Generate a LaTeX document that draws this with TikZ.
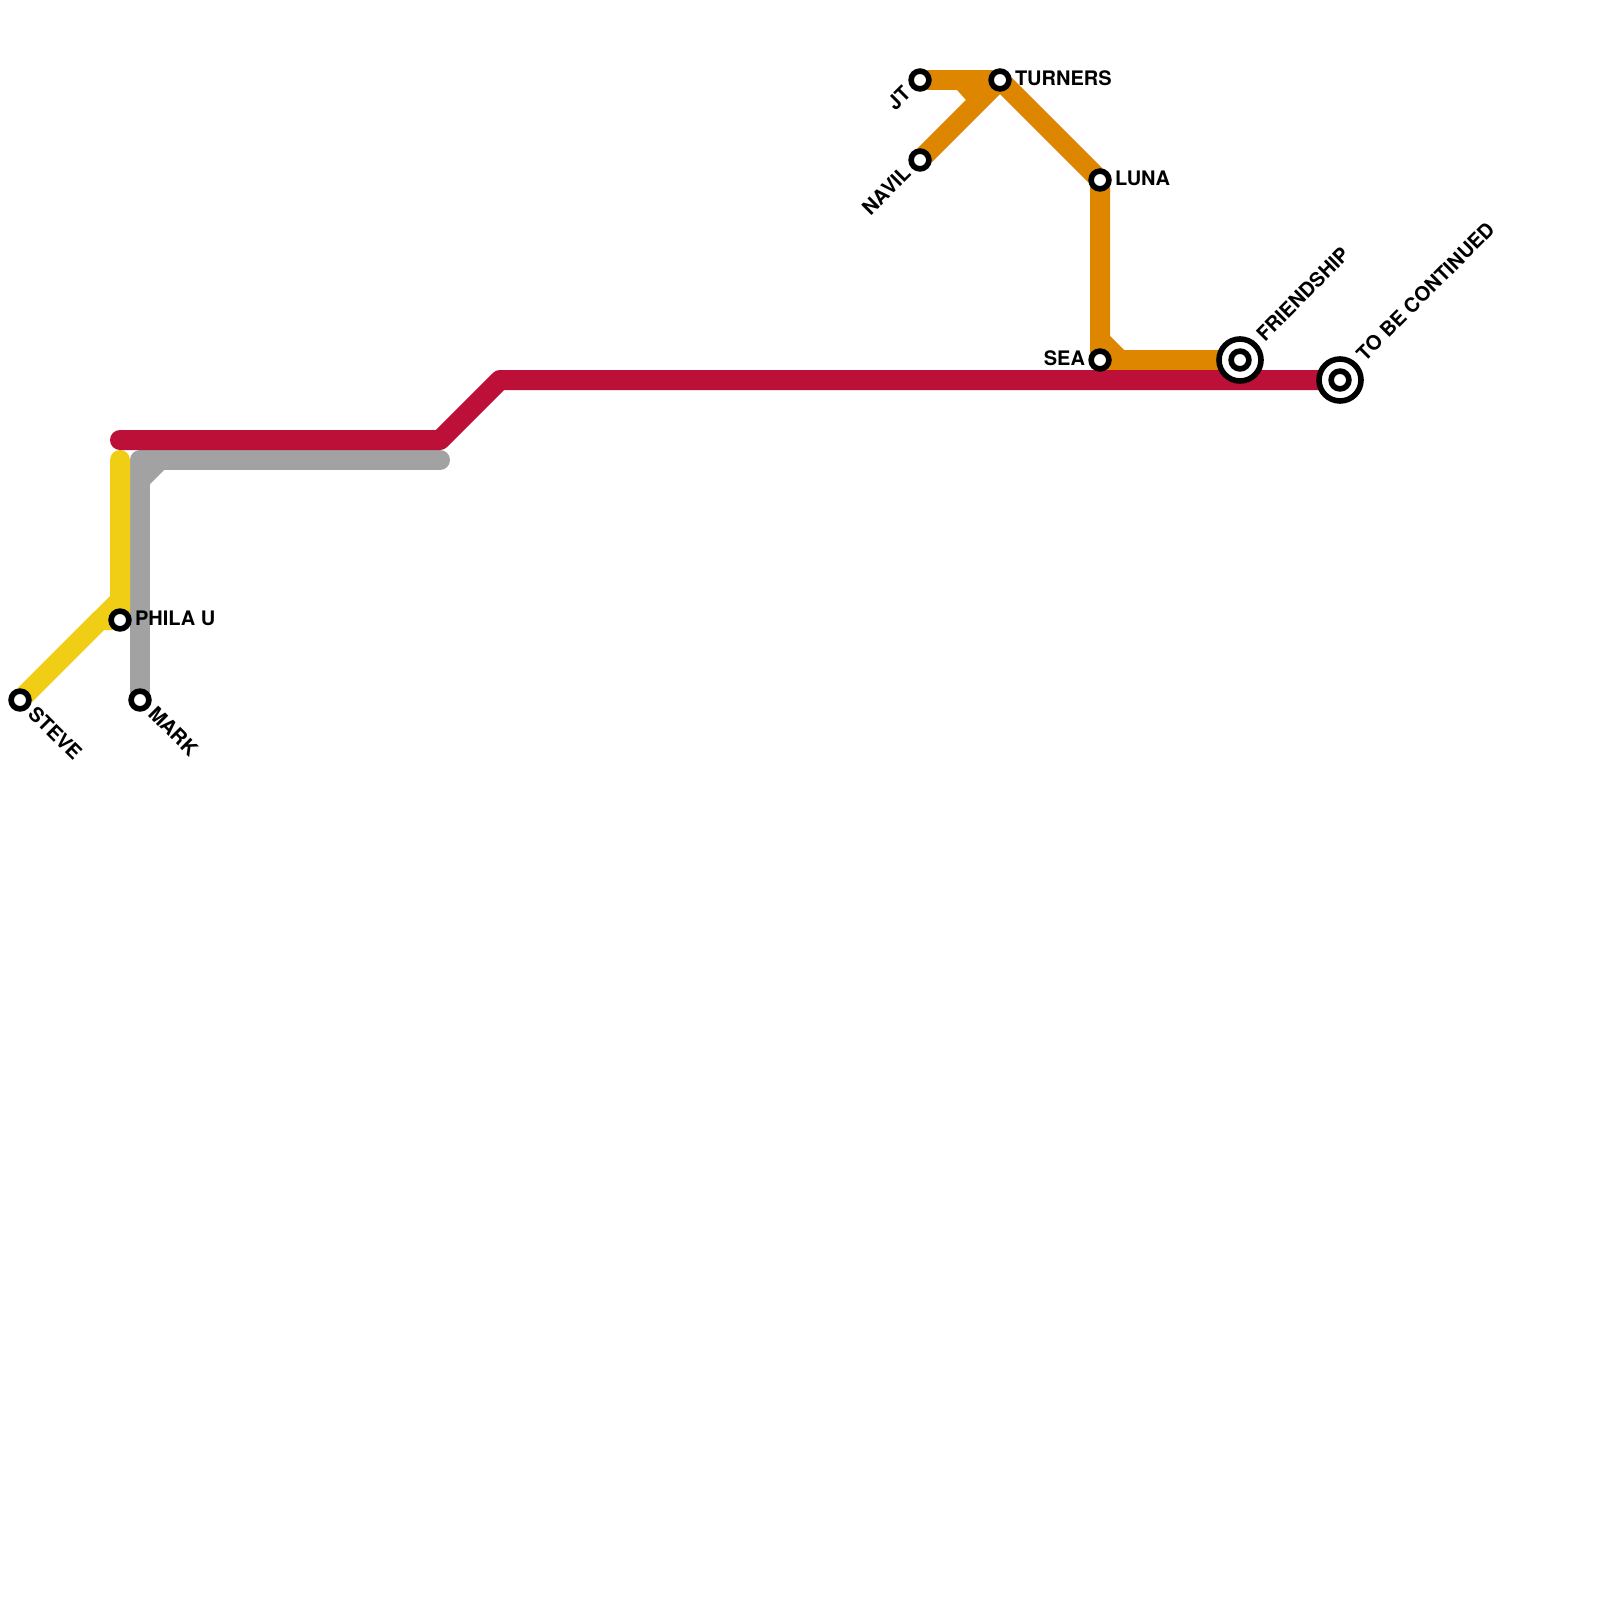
\documentclass[tikz,border=0pt]{standalone}
\usepackage{fontspec}
\setmainfont{TeX Gyre Heros}
\definecolor{lineorange}{HTML}{DF8600}
\definecolor{linered}{HTML}{BD1038}
\definecolor{linegray}{HTML}{A2A2A2}
\definecolor{lineyellow}{HTML}{F0CE15}
\tikzset{
  metroline/.style={line width=20pt,line cap=round,line join=round},
  stationdot/.style={circle,draw=black,fill=white,line width=5.6pt,inner sep=0pt,outer sep=0pt,minimum size=17.8pt},
  stationring/.style={circle,draw=black,fill=white,line width=5.6pt,inner sep=0pt,outer sep=0pt,minimum size=42pt},
  stationlabel/.style={inner sep=0pt,outer sep=0pt,text=black,font=\fontsize{20}{20}\selectfont\bfseries},
}
\begin{document}
\begin{tikzpicture}[x=1pt,y=-1pt]
\useasboundingbox[fill=white] (0,0) rectangle (1600,1600);
% anchors for stations and bends
\coordinate (jtc) at (920,80);
\coordinate (turnersc) at (1000,80);
\coordinate (navilc) at (920,160);
\coordinate (lunac) at (1100,180);
\coordinate (seac) at (1100,360);
\coordinate (friendc) at (1240,360);
\coordinate (tbcc) at (1340,380);
\coordinate (philac) at (120,620);
\coordinate (stevec) at (20,700);
\coordinate (markc) at (140,700);
\coordinate (redstart) at (120,440);
\coordinate (redbenda) at (440,440);
\coordinate (redbendb) at (500,380);
\coordinate (graystart) at (440,460);
\coordinate (graybend) at (140,460);
\coordinate (yellowtop) at (120,460);
\coordinate (yellowbend) at (100,620);
% lines
\draw[metroline,lineorange] (jtc) -- (turnersc);
\draw[metroline,lineorange] (navilc) -- (turnersc);
\draw[metroline,lineorange] (turnersc) -- (lunac) -- (seac) -- (friendc);
\fill[lineorange] (957,90) -- (966,100) -- (985,90) -- (975,75) -- (950,83) -- cycle;
\fill[lineorange] (1110,336) -- (1124,350) -- (1124,355) -- (1105,355) -- (1105,336) -- cycle;
\draw[metroline,linegray] (graystart) -- (graybend) -- (markc);
\fill[linegray] (150,484) -- (164,470) -- (170,465) -- (145,465) -- (145,489) -- cycle;
\draw[metroline,lineyellow] (stevec) -- (yellowbend) -- (philac) -- (yellowtop);
\fill[lineyellow] (110,596) -- (115,591) -- (115,625) -- (100,625) -- (92,614) -- cycle;
\draw[metroline,linered] (redstart) -- (redbenda) -- (redbendb) -- (tbcc);
% stations
\node[stationdot] (jt) at (jtc) {};
\node[stationdot] (turners) at (turnersc) {};
\node[stationdot] (navil) at (navilc) {};
\node[stationdot] (luna) at (lunac) {};
\node[stationdot] (sea) at (seac) {};
\node[stationring] (friendo) at (friendc) {};
\node[stationdot] (friend) at (friendc) {};
\node[stationring] (tbco) at (tbcc) {};
\node[stationdot] (tbc) at (tbcc) {};
\node[stationdot] (phila) at (philac) {};
\node[stationdot] (steve) at (stevec) {};
\node[stationdot] (mark) at (markc) {};
% labels
\node[stationlabel,anchor=base west] (ltur) at (1015,85.5) {TURNERS};
\node[stationlabel,anchor=base west] (llun) at (1115,185) {LUNA};
\node[stationlabel,anchor=base east] (lsea) at (1085,365) {SEA};
\node[stationlabel,anchor=base west] (lphi) at (135,625) {PHILA U};
\node[stationlabel,anchor=base east,rotate=45] (ljt) at (912,95) {JT};
\node[stationlabel,anchor=base east,rotate=45] (lnav) at (912,175) {NAVIL};
\node[stationlabel,anchor=base west,rotate=45] (lfri) at (1265,342) {FRIENDSHIP};
\node[stationlabel,anchor=base west,rotate=45] (ltbc) at (1365,362) {TO BE CONTINUED};
\node[stationlabel,anchor=base west,rotate=-45] (lste) at (27,715) {STEVE};
\node[stationlabel,anchor=base west,rotate=-45] (lmar) at (147,715) {MARK};
\end{tikzpicture}
\end{document}
